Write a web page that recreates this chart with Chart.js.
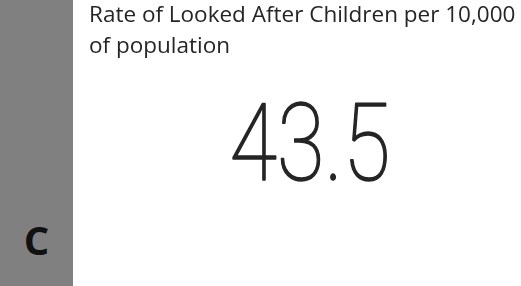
<!DOCTYPE html>
<html><head><meta charset="utf-8">
<script src="https://cdn.jsdelivr.net/npm/chart.js@4/dist/chart.umd.min.js"></script>
<style>
html,body{margin:0;padding:0;background:#fff;width:521px;height:286px;overflow:hidden}
#side{position:absolute;left:0;top:0;width:73px;height:286px;background:#808080}
#grade{position:absolute;left:0;top:212px;width:73px;text-align:center;font:bold 40px "Open Sans";color:#111}
#wrap{position:absolute;left:73px;top:0;width:448px;height:286px}
</style></head><body>
<div id="side"><div id="grade"></div></div>
<div id="wrap"><canvas id="c" width="448" height="286"></canvas></div>
<script>
const titleLines = ["Rate of Looked After Children per 10,000", "of population"];
const kpiValue = [43.5];
const gradeLabel = ["C"];

document.getElementById('grade').textContent = gradeLabel[0];

const valuePlugin = {
  id: 'kpiValue',
  afterDraw(chart) {
    const ctx = chart.ctx;
    ctx.save();
    ctx.font = '100 107px Roboto';
    ctx.fillStyle = '#252525';
    ctx.strokeStyle = '#252525';
    ctx.lineWidth = 1.6;
    ctx.lineJoin = 'round';
    ctx.textAlign = 'center';
    ctx.textBaseline = 'alphabetic';
    ctx.translate(237, 180);
    ctx.scale(0.81, 1);
    const s = kpiValue[0].toFixed(1);
    ctx.fillText(s, 0, 0);
    ctx.strokeText(s, 0, 0);
    ctx.restore();
  }
};

new Chart(document.getElementById('c'), {
  type: 'bar',
  data: { labels: [''], datasets: [{ data: [], backgroundColor: 'transparent' }] },
  options: {
    responsive: false,
    animation: false,
    events: [],
    layout: { padding: { left: 16, top: 0, right: 0, bottom: 0 } },
    scales: { x: { display: false }, y: { display: false } },
    plugins: {
      legend: { display: false },
      tooltip: { enabled: false },
      title: {
        display: true, text: titleLines, align: 'start',
        color: '#252525', font: { family: 'Open Sans', size: 22.5, weight: 'normal', lineHeight: 1.38 },
        padding: { top: 0, bottom: 0 }
      }
    }
  },
  plugins: [valuePlugin]
});
</script>
</body></html>
